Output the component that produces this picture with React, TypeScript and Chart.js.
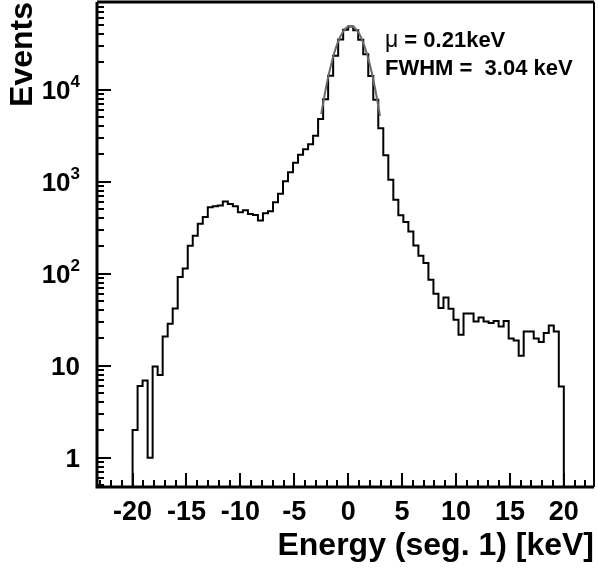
import React, { useEffect, useRef } from 'react';
import { Chart, registerables } from 'chart.js';

Chart.register(...registerables);

// Histogram binning (keV)
const BIN_LOW = -20;
const BIN_HIGH = 20;
// Bin contents (86 bins from -20 to 20 keV)
const counts = [
  2.0, 6.0, 6.9, 1.0, 9.8, 7.9, 20.8, 28.6, 42, 92,
  114, 202, 258, 350, 414, 527, 540, 553, 610, 574,
  540, 467, 491, 445, 434, 380, 455, 479, 600, 740,
  1010, 1265, 1610, 1970, 2250, 2550, 3170, 4800, 7890, 14200,
  23500, 35200, 44900, 48800, 44300, 34900, 24300, 14100, 7790, 3820,
  1940, 1051, 637, 432, 364, 288, 203, 157, 131, 86,
  60.7, 42.4, 55.3, 41.7, 31.6, 21.7, 37, 37, 30.3, 33.5,
  30.3, 29.1, 30.6, 26.7, 30.6, 19.7, 18.8, 12.8, 23.6, 23.6,
  19.7, 18.1, 22.7, 27.4, 23.6, 5.96,
];

// Gaussian fit curve points
const fitX = [-2.5, -2, -1.5, -1, -0.5, 0, 0.21, 0.5, 1, 1.5, 2, 2.5, 2.95];
const fitY = [5470, 11440, 20600, 31900, 42560, 48850, 49500, 48270, 41050, 30050, 18930, 10260, 5200];

// Axes
const X_MIN = -23.3;
const X_MAX = 22.8;
const Y_MIN = 0.48;
const Y_MAX = 90000;
const xTickValues = [-20, -15, -10, -5, 0, 5, 10, 15, 20];
const yTickValues = [1, 10, 100, 1000, 10000];
const yTickBase = ['1', '10', '10', '10', '10'];
const yTickExp = ['', '', '2', '3', '4'];

const annotMu = '\u03BC';
const annotMuRest = ' = 0.21keV';
const annotFwhm = 'FWHM =  3.04 keV';

const FONT = "'Liberation Sans', Arial, Helvetica, sans-serif";

const framePlugin = {
  id: 'rootFrame',
  afterDraw(chart: any) {
    const { ctx, chartArea } = chart;
    const xs = chart.scales.x;
    const ys = chart.scales.y;
    const { left, right, top, bottom } = chartArea;
    ctx.save();
    ctx.strokeStyle = '#000';
    ctx.lineCap = 'butt';
    // ticks
    ctx.lineWidth = 2;
    ctx.beginPath();
    for (let v = Math.ceil(X_MIN); v <= X_MAX; v += 1) {
      const px = Math.round(xs.getPixelForValue(v));
      const len = v % 5 === 0 ? 14 : 7;
      ctx.moveTo(px, bottom);
      ctx.lineTo(px, bottom - len);
    }
    for (let d = -1; d <= 5; d++) {
      for (let m = 1; m <= 9; m++) {
        const v = m * Math.pow(10, d);
        if (v < Y_MIN || v > Y_MAX) continue;
        const py = Math.round(ys.getPixelForValue(v));
        const len = m === 1 ? 14 : 7;
        ctx.moveTo(left, py);
        ctx.lineTo(left + len, py);
      }
    }
    ctx.stroke();
    // frame
    ctx.lineWidth = 3;
    ctx.beginPath();
    ctx.moveTo(left, top);
    ctx.lineTo(left, bottom);
    ctx.lineTo(right, bottom);
    ctx.moveTo(left, top);
    ctx.lineTo(right, top);
    ctx.stroke();
    ctx.lineWidth = 2;
    ctx.beginPath();
    ctx.moveTo(right, top);
    ctx.lineTo(right, bottom);
    ctx.stroke();

    // y tick labels with superscript exponents
    ctx.fillStyle = '#000';
    ctx.textBaseline = 'middle';
    ctx.textAlign = 'right';
    const labelRight = 80;
    yTickValues.forEach((v, i) => {
      const py = ys.getPixelForValue(v);
      const exp = yTickExp[i];
      let expW = 0;
      if (exp) {
        ctx.font = `bold 17px ${FONT}`;
        expW = ctx.measureText(exp).width;
        ctx.fillText(exp, labelRight, py - 7);
      }
      ctx.font = `bold 26px ${FONT}`;
      ctx.fillText(yTickBase[i], labelRight - expW, py + 2);
    });

    // annotation text
    ctx.textBaseline = 'alphabetic';
    ctx.textAlign = 'left';
    ctx.font = `23px ${FONT}`;
    ctx.fillText(annotMu, 385, 47);
    const muW = ctx.measureText(annotMu).width;
    ctx.font = `bold 22px ${FONT}`;
    ctx.fillText(annotMuRest, 385 + muW, 47);
    ctx.fillText(annotFwhm, 385, 75);
    ctx.restore();
  },
};

export default function App() {
  const ref = useRef<HTMLCanvasElement | null>(null);

  useEffect(() => {
    document.body.style.margin = '0';
    const binW = (BIN_HIGH - BIN_LOW) / counts.length;
    const histPts: { x: number; y: number }[] = [{ x: BIN_LOW, y: 0.01 }];
    counts.forEach((c, i) => histPts.push({ x: BIN_LOW + i * binW, y: c }));
    histPts.push({ x: BIN_HIGH, y: 0.01 });
    const fitPts = fitX.map((x, i) => ({ x, y: fitY[i] }));

    const chart = new Chart(ref.current as HTMLCanvasElement, {
      type: 'line',
      data: {
        datasets: [
          {
            label: 'fit',
            data: fitPts,
            borderColor: '#6a6a6a',
            borderWidth: 2,
            pointRadius: 0,
            cubicInterpolationMode: 'monotone',
            fill: false,
          },
          {
            label: 'hist',
            data: histPts,
            borderColor: '#000',
            borderWidth: 2,
            pointRadius: 0,
            stepped: 'before',
            fill: false,
          },
        ],
      },
      options: {
        animation: false,
        responsive: false,
        devicePixelRatio: 1,
        layout: { padding: { top: 2, right: 4, left: 0, bottom: 0 } },
        plugins: {
          legend: { display: false },
          tooltip: { enabled: false },
        },
        scales: {
          x: {
            type: 'linear',
            min: X_MIN,
            max: X_MAX,
            afterBuildTicks: (s: any) => {
              s.ticks = xTickValues.map((v) => ({ value: v }));
            },
            afterFit: (s: any) => {
              s.height = 82;
              s.paddingLeft = 0;
              s.paddingRight = 0;
            },
            grid: { display: false },
            border: { display: false },
            ticks: {
              autoSkip: false,
              maxRotation: 0,
              padding: 1,
              color: '#000',
              font: { family: FONT, weight: 'bold', size: 27 },
              callback: (v: any) => String(v),
            },
            title: {
              display: true,
              text: 'Energy (seg. 1) [keV]',
              align: 'end',
              color: '#000',
              font: { family: FONT, weight: 'bold', size: 32 },
              padding: { top: 0, bottom: 4 },
            },
          },
          y: {
            type: 'logarithmic',
            min: Y_MIN,
            max: Y_MAX,
            afterBuildTicks: (s: any) => {
              s.ticks = yTickValues.map((v) => ({ value: v }));
            },
            afterFit: (s: any) => {
              s.width = 97;
              s.paddingTop = 0;
              s.paddingBottom = 0;
            },
            grid: { display: false },
            border: { display: false },
            ticks: { display: false },
            title: {
              display: true,
              text: 'Events',
              align: 'end',
              color: '#000',
              font: { family: FONT, weight: 'bold', size: 32 },
              padding: { top: 4, bottom: 0 },
            },
          },
        },
      },
      plugins: [framePlugin],
    } as any);
    return () => chart.destroy();
  }, []);

  return (
    <div style={{ position: 'fixed', left: 0, top: 0, width: 598, height: 569, background: '#fff' }}>
      <canvas ref={ref} width={598} height={569} />
    </div>
  );
}
